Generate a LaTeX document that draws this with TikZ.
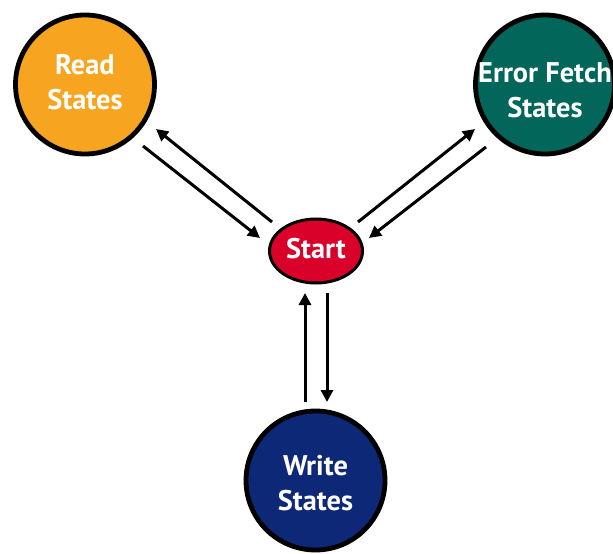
\documentclass[tikz,border=0pt]{standalone}
\usepackage{fontspec}
\setmainfont{PT Sans}
\usetikzlibrary{arrows.meta,shapes.geometric}
\definecolor{readorange}{HTML}{F7A521}
\definecolor{errorteal}{HTML}{02665A}
\definecolor{startred}{HTML}{D90029}
\definecolor{writenavy}{HTML}{0E2878}
\begin{document}
\begin{tikzpicture}[x=1bp,y=-1bp,
  statecircle/.style={circle, draw=black, line width=4.8bp, minimum size=139bp, inner sep=0pt},
  statetext/.style={text=white, font=\bfseries\fontsize{28.5}{35}\selectfont, align=center, inner sep=0pt},
  startnode/.style={ellipse, draw=black, line width=3bp, fill=startred, minimum width=93bp, minimum height=64bp, inner sep=0pt},
  flow/.style={line width=3bp, -{Triangle[length=12bp,width=12bp]}}]
\useasboundingbox (0,0) rectangle (613,554);

% state circles
\node[statecircle, fill=readorange] (read) at (85,84.5) {};
\node[statecircle, fill=errorteal] (error) at (545,84.5) {};
\node[statecircle, fill=writenavy] (write) at (315.5,480.5) {};
\node[startnode] (start) at (316,251) {};

% labels (yshift is measured upwards)
\node[statetext] (readtxt) at ([yshift=2bp]read) {Read\\States};
\node[statetext] (errortxt) at ([yshift=-6bp]error) {Error Fetch\\States};
\node[statetext] (writetxt) at ([yshift=-3bp]write) {Write\\States};
\node[statetext] (starttxt) at ([yshift=2bp]start) {Start};

% connector end points
\coordinate (rsA) at (143,146);
\coordinate (rsB) at (260,238);
\coordinate (srA) at (272,222);
\coordinate (srB) at (156,129);
\coordinate (seA) at (358,222);
\coordinate (seB) at (475,129);
\coordinate (esA) at (486,147);
\coordinate (esB) at (369,238);
\coordinate (wsA) at (305,402);
\coordinate (wsB) at (305,293);
\coordinate (swA) at (327,293);
\coordinate (swB) at (327,402);

% transitions
\draw[flow] (rsA) -- (rsB);
\draw[flow] (srA) -- (srB);
\draw[flow] (seA) -- (seB);
\draw[flow] (esA) -- (esB);
\draw[flow] (wsA) -- (wsB);
\draw[flow] (swA) -- (swB);
\end{tikzpicture}
\end{document}
